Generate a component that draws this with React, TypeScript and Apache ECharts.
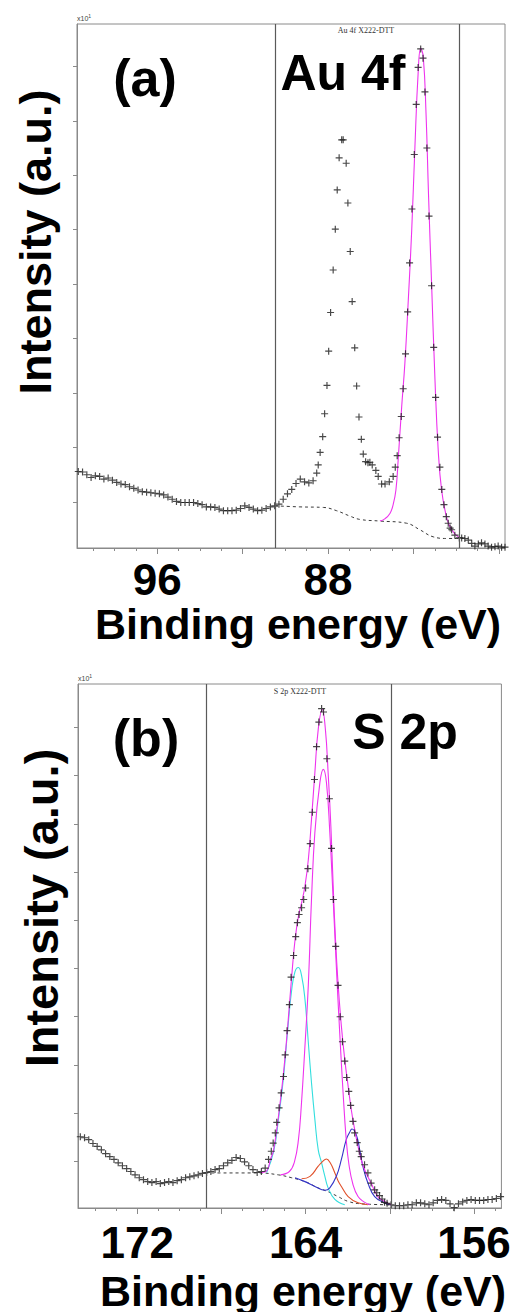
import React, { useEffect, useRef } from "react";
import * as echarts from "echarts";

// ---------- Panel (a): Au 4f ----------
const auDataE = [
  99.7, 99.5, 99.3, 99.1, 98.9, 98.7, 98.5, 98.3, 98.1, 97.9, 97.7, 97.5, 97.3, 97.1, 96.9, 96.7,
  96.5, 96.3, 96.1, 95.9, 95.7, 95.5, 95.3, 95.1, 94.9, 94.7, 94.5, 94.3, 94.1, 93.9, 93.7, 93.5,
  93.3, 93.1, 92.9, 92.7, 92.5, 92.3, 92.1, 91.9, 91.7, 91.5, 91.3, 91.1, 90.9, 90.7, 90.5,
  90.3, 90.1, 89.9, 89.7, 89.5, 89.3, 89.1, 88.9, 88.7,
  88.53, 88.46, 88.37, 88.25, 88.16, 88.05, 87.97, 87.88, 87.76, 87.66, 87.57, 87.48, 87.36, 87.29,
  87.15, 87.07, 86.96, 86.87, 86.75, 86.66, 86.55, 86.44, 86.35, 86.24, 86.13, 86.04, 85.93, 85.76,
  85.65, 85.49, 85.33, 85.13, 84.95, 84.85, 84.76, 84.67, 84.57, 84.48, 84.37, 84.27, 84.18, 84.07,
  83.96, 83.87, 83.78, 83.66, 83.55, 83.46, 83.37, 83.27, 83.15, 83.05, 82.96, 82.87, 82.76, 82.67,
  82.57, 82.46, 82.37, 82.28, 82.21, 82.06, 81.85, 81.74, 81.59, 81.43, 81.27, 81.12, 80.96, 80.81,
  80.65, 80.5, 80.34, 80.18, 80.03, 79.87, 79.71,
];
const auDataI = [
  1.56, 1.55, 1.5, 1.45, 1.48, 1.47, 1.42, 1.44, 1.4, 1.36, 1.33, 1.32, 1.28, 1.25, 1.22, 1.19,
  1.18, 1.17, 1.16, 1.15, 1.13, 1.09, 1.05, 1.01, 0.99, 0.99, 0.99, 0.99, 0.97, 0.95, 0.91, 0.91,
  0.9, 0.87, 0.84, 0.84, 0.84, 0.85, 0.88, 0.93, 0.9, 0.87, 0.84, 0.85, 0.88, 0.91, 0.93,
  0.96, 1.05, 1.15, 1.23, 1.34, 1.42, 1.37, 1.35, 1.39,
  1.53, 1.68, 1.91, 2.2, 2.62, 3.14, 3.77, 4.48, 5.26, 6.01, 6.73, 7.32, 7.65, 7.65,
  7.22, 6.49, 5.6, 4.68, 3.83, 3.13, 2.56, 2.15, 1.88, 1.74, 1.72, 1.73, 1.68, 1.58,
  1.47, 1.33, 1.33, 1.37, 1.47, 1.64, 1.85, 2.18, 2.57, 3.08, 3.72, 4.49, 5.39, 6.38,
  7.38, 8.3, 8.98, 9.32, 9.15, 8.53, 7.5, 6.25, 4.97, 3.84, 2.92, 2.19, 1.64, 1.23,
  0.95, 0.73, 0.61, 0.52, 0.49, 0.39, 0.34, 0.34, 0.33, 0.3, 0.24, 0.19, 0.23, 0.25,
  0.23, 0.19, 0.17, 0.18, 0.19, 0.17, 0.17,
];
const auFitE = [85.57, 85.34, 85.1, 84.95, 84.82, 84.71, 84.55, 84.4, 84.24, 84.08, 83.93, 83.78, 83.66, 83.54, 83.41, 83.29, 83.15, 82.99, 82.84, 82.68, 82.44, 82.21, 81.85];
const auFitI = [0.65, 0.69, 0.79, 0.95, 1.22, 1.8, 2.75, 3.55, 4.71, 5.99, 7.52, 8.87, 9.33, 9.18, 8.14, 6.61, 5.02, 3.24, 1.96, 1.22, 0.71, 0.49, 0.34];
const auBgE = [90.49, 89.32, 88.22, 87.6, 86.97, 86.51, 85.57, 84.32, 83.7, 83.07, 82.44, 81.85];
const auBgI = [0.93, 0.91, 0.9, 0.84, 0.74, 0.68, 0.65, 0.61, 0.49, 0.36, 0.33, 0.33];
const auRegion = [90.49, 81.85];
const auMinorTicks = [80, 81, 82, 83, 84, 85, 86, 87, 88, 89, 90, 91, 92, 93, 94, 95, 96, 97, 98, 99];
const auMajorTicks = [80, 84, 88, 92, 96];
const auTickLabels = [96, 88];
const auYTicks = [1, 2, 3, 4, 5, 6, 7, 8, 9];

// ---------- Panel (b): S 2p ----------
const sDataE = [
  174.7, 174.5, 174.3, 174.1, 173.9, 173.7, 173.5, 173.3, 173.1, 172.9, 172.7, 172.5, 172.3, 172.1,
  171.9, 171.7, 171.5, 171.3, 171.1, 170.9, 170.7, 170.5, 170.3, 170.1, 169.9, 169.7, 169.5, 169.3,
  169.1, 168.9, 168.7, 168.5, 168.3, 168.1, 167.9, 167.7, 167.5, 167.3, 167.1, 166.9, 166.7, 166.5,
  166.3, 166.1,
  165.92, 165.76, 165.63, 165.54, 165.44, 165.37, 165.26, 165.16, 165.05, 164.97, 164.88, 164.77,
  164.69, 164.57, 164.47, 164.39, 164.31, 164.19, 164.09, 164.0, 163.89, 163.78, 163.68, 163.58,
  163.48, 163.37, 163.24, 163.15, 162.99, 162.87, 162.77, 162.68, 162.57, 162.46, 162.36, 162.25,
  162.14, 162.05, 161.95, 161.86, 161.75, 161.67, 161.55, 161.45, 161.36, 161.2, 161.04, 160.89,
  160.72, 160.62, 160.49, 160.37, 160.25, 160.13, 159.94,
  159.74, 159.54, 159.34, 159.14, 158.94, 158.74, 158.54, 158.34, 158.14, 157.94, 157.74, 157.54,
  157.34, 157.14, 156.94, 156.74, 156.54, 156.34, 156.14, 155.94, 155.74, 155.54, 155.34, 155.14,
  154.94, 154.74,
];
const sDataI = [
  1.51, 1.49, 1.45, 1.37, 1.31, 1.24, 1.16, 1.1, 1.04, 0.97, 0.91, 0.85, 0.79, 0.72,
  0.66, 0.62, 0.58, 0.56, 0.58, 0.54, 0.56, 0.58, 0.56, 0.6, 0.62, 0.66, 0.68, 0.7,
  0.72, 0.75, 0.77, 0.79, 0.83, 0.85, 0.91, 0.97, 1.02, 1.08, 1.06, 0.99, 0.91, 0.83,
  0.77, 0.79,
  0.86, 1.04, 1.21, 1.38, 1.59, 1.81, 2.11, 2.42, 2.76, 3.21, 3.71, 4.25,
  4.82, 5.27, 5.66, 5.95, 6.12, 6.26, 6.43, 6.67, 7.07, 7.59, 8.24, 8.92,
  9.6, 10.11, 10.39, 10.32, 9.35, 8.52, 7.49, 6.43, 5.46, 4.65, 4.0, 3.48,
  3.08, 2.74, 2.45, 2.16, 1.83, 1.59, 1.39, 1.21, 1.1, 0.93, 0.76, 0.55,
  0.41, 0.35, 0.29, 0.22, 0.15, 0.13, 0.1,
  0.08, 0.08, 0.08, 0.1, 0.1, 0.14, 0.14, 0.12, 0.1, 0.14, 0.19, 0.21,
  0.19, 0.12, 0.04, 0.12, 0.16, 0.19, 0.21, 0.19, 0.19, 0.19, 0.21, 0.21,
  0.23, 0.27,
];
const sEnvE = [166.14, 165.84, 165.67, 165.52, 165.29, 165.05, 164.85, 164.66, 164.5, 164.34, 164.19, 164.03, 163.87, 163.72, 163.56, 163.4, 163.21, 163.06, 162.93, 162.8, 162.69, 162.58, 162.46, 162.3, 162.14, 161.98, 161.83, 161.67, 161.51, 161.36, 161.2, 160.89, 160.57, 160.25, 159.94];
const sEnvI = [0.77, 0.81, 1.04, 1.24, 1.93, 2.83, 3.8, 4.84, 5.6, 6.08, 6.36, 6.71, 7.26, 8.09, 9.06, 9.96, 10.37, 9.96, 9.06, 7.95, 6.71, 5.6, 4.7, 3.8, 3.11, 2.56, 2.07, 1.66, 1.31, 1.04, 0.83, 0.55, 0.27, 0.17, 0.1];
const sMainE = [165.19, 164.77, 164.53, 164.34, 164.2, 164.04, 163.87, 163.72, 163.56, 163.32, 163.16, 163.01, 162.85, 162.69, 162.54, 162.38, 162.22, 162.07, 161.94, 161.75, 161.51, 161.23, 160.95];
const sMainI = [0.72, 0.79, 0.99, 1.45, 2.18, 3.32, 4.67, 6.43, 7.82, 8.86, 9.13, 8.86, 7.82, 6.43, 5.04, 3.67, 2.43, 1.45, 0.93, 0.52, 0.27, 0.16, 0.1];
const sCyanE = [165.85, 165.52, 165.29, 165.05, 164.85, 164.66, 164.5, 164.34, 164.19, 164.03, 163.87, 163.72, 163.56, 163.4, 163.24, 163.09, 162.93, 162.61, 162.14];
const sCyanI = [0.77, 1.2, 1.87, 2.74, 3.73, 4.56, 4.94, 5.02, 4.85, 4.36, 3.46, 2.63, 1.87, 1.24, 0.97, 0.7, 0.45, 0.21, 0.1];
const sRedE = [164.19, 163.79, 163.4, 163.21, 163.01, 162.83, 162.61, 162.46, 162.3, 161.98, 161.51, 161.04];
const sRedI = [0.64, 0.69, 0.9, 0.99, 1.05, 0.97, 0.76, 0.6, 0.48, 0.27, 0.14, 0.1];
const sBlueE = [164.5, 164.03, 163.56, 163.08, 162.85, 162.54, 162.3, 162.07, 161.91, 161.8, 161.59, 161.43, 161.28, 161.04, 160.72, 160.25, 159.96];
const sBlueI = [0.66, 0.58, 0.48, 0.4, 0.45, 0.69, 1.04, 1.45, 1.6, 1.67, 1.55, 1.24, 0.9, 0.55, 0.27, 0.14, 0.1];
const sBgE = [168.75, 166.23, 165.29, 164.66, 164.03, 163.4, 162.93, 162.46, 161.98, 161.36, 159.94];
const sBgI = [0.76, 0.76, 0.72, 0.66, 0.58, 0.45, 0.37, 0.27, 0.17, 0.12, 0.1];
const sRegion = [168.73, 159.94];
const sMinorTicks = [155, 156, 157, 158, 159, 160, 161, 162, 163, 164, 165, 166, 167, 168, 169, 170, 171, 172, 173, 174];
const sMajorTicks = [156, 160, 164, 168, 172];
const sTickLabels = [172, 164, 156];
const sYTicks = [1, 2, 3, 4, 5, 6, 7, 8, 9, 10];

const FONT = "'Liberation Sans', Arial, Helvetica, sans-serif";
const SERIF = "'Liberation Serif', 'Times New Roman', serif";
const PLUS = "path://M5,0H7V5H12V7H7V12H5V7H0V5H5Z";
const AXIS_GRAY = "#8a8a8a";

const zip = (e: number[], v: number[]) => e.map((x, i) => [x, v[i]]);

function xAxesFor(grid: number, min: number, max: number, minor: number[], major: number[], labels: number[], margin: number) {
  return [
    {
      type: "value", gridIndex: grid, min, max, inverse: true, position: "bottom",
      axisLine: { show: true, lineStyle: { color: AXIS_GRAY, width: 1 } },
      axisTick: { show: true, customValues: minor, length: 3, lineStyle: { color: AXIS_GRAY } },
      axisLabel: { show: true, customValues: labels, fontSize: 44, fontWeight: "bold", color: "#000", fontFamily: FONT, margin },
      splitLine: { show: false },
    },
    {
      type: "value", gridIndex: grid, min, max, inverse: true, position: "bottom", offset: 0,
      axisLine: { show: false },
      axisTick: { show: true, customValues: major, length: 6, lineStyle: { color: AXIS_GRAY } },
      axisLabel: { show: false },
      splitLine: { show: false },
    },
  ];
}

function yAxisFor(grid: number, min: number, max: number, ticks: number[]) {
  return {
    type: "value", gridIndex: grid, min, max,
    axisLine: { show: true, lineStyle: { color: AXIS_GRAY, width: 1 } },
    axisTick: { show: true, customValues: ticks, length: 4, lineStyle: { color: AXIS_GRAY } },
    axisLabel: { show: false },
    splitLine: { show: false },
  };
}

const lineSeries = (name: string, xi: number, yi: number, data: number[][], color: string, dashed = false) => ({
  name, type: "line", xAxisIndex: xi, yAxisIndex: yi, data, showSymbol: false, symbol: "none",
  smooth: 0.45, silent: true,
  lineStyle: { color, width: dashed ? 1 : 1.1, type: dashed ? [3, 3] : "solid" },
  z: 3,
});

const scatterSeries = (name: string, xi: number, yi: number, data: number[][], region: number[]) => ({
  name, type: "scatter", xAxisIndex: xi, yAxisIndex: yi, data, symbol: PLUS, symbolSize: 7,
  itemStyle: { color: "#1a1a1a" }, silent: true, z: 4,
  markLine: {
    silent: true, symbol: ["none", "none"], label: { show: false },
    lineStyle: { color: "#5a5a5a", width: 1.2, type: "solid" },
    data: region.map((v) => ({ xAxis: v })),
  },
});

const boldText = (text: string, x: number, y: number, size: number, extra: any = {}) => ({
  type: "text", x, y, silent: true, ...extra,
  style: { text, fontSize: size, fontWeight: "bold", fontFamily: FONT, fill: "#000", align: "center", verticalAlign: "middle" },
});

const smallText = (text: string, x: number, y: number) => ({
  type: "text", x, y, silent: true,
  style: { text, fontSize: 8, fontFamily: SERIF, fill: "#333", align: "center", verticalAlign: "middle" },
});

const expText = (x: number, y: number) => ({
  type: "text", x, y, silent: true,
  style: {
    text: "{a|x10}{b|1}", align: "left", verticalAlign: "bottom",
    rich: { a: { fontSize: 7, fontFamily: FONT, fill: "#444" }, b: { fontSize: 5, fontFamily: FONT, fill: "#444", padding: [0, 0, 5, 0] } },
  },
});

export default function App() {
  const ref = useRef<HTMLDivElement>(null);
  useEffect(() => {
    if (!ref.current) return;
    const chart = echarts.init(ref.current, null, { renderer: "svg" });
    const option: any = {
      animation: false,
      backgroundColor: "#ffffff",
      grid: [
        { left: 77, top: 24, width: 428, height: 524, show: true, borderColor: AXIS_GRAY, borderWidth: 1, backgroundColor: "transparent" },
        { left: 78, top: 684, width: 426, height: 524, show: true, borderColor: AXIS_GRAY, borderWidth: 1, backgroundColor: "transparent" },
      ],
      xAxis: [
        ...xAxesFor(0, 79.71, 99.76, auMinorTicks, auMajorTicks, auTickLabels, 9),
        ...xAxesFor(1, 154.7, 174.81, sMinorTicks, sMajorTicks, sTickLabels, 12),
      ],
      yAxis: [yAxisFor(0, 0.155, 9.777, auYTicks), yAxisFor(1, 0.033, 10.9, sYTicks)],
      series: [
        scatterSeries("Au 4f data", 0, 0, zip(auDataE, auDataI), auRegion),
        lineSeries("Au 4f background", 0, 0, zip(auBgE, auBgI), "#3a3a3a", true),
        lineSeries("Au 4f fit", 0, 0, zip(auFitE, auFitI), "#ee33ee"),
        scatterSeries("S 2p data", 2, 1, zip(sDataE, sDataI), sRegion),
        lineSeries("S 2p background", 2, 1, zip(sBgE, sBgI), "#3a3a3a", true),
        lineSeries("S 2p cyan", 2, 1, zip(sCyanE, sCyanI), "#33dede"),
        lineSeries("S 2p red", 2, 1, zip(sRedE, sRedI), "#e0502a"),
        lineSeries("S 2p blue", 2, 1, zip(sBlueE, sBlueI), "#3333c8"),
        lineSeries("S 2p main", 2, 1, zip(sMainE, sMainI), "#ee33ee"),
        lineSeries("S 2p envelope", 2, 1, zip(sEnvE, sEnvI), "#ee33ee"),
      ],
      graphic: [
        boldText("(a)", 145, 78, 52),
        boldText("Au 4f", 343, 73, 50),
        smallText("Au 4f X222-DTT", 366, 30),
        expText(77, 23),
        boldText("Intensity (a.u.)", 35, 242, 45, { rotation: Math.PI / 2 }),
        boldText("Binding energy (eV)", 298, 624, 43),
        boldText("(b)", 146, 738, 52),
        boldText("S 2p", 405, 732, 50),
        smallText("S 2p X222-DTT", 300, 691),
        expText(78, 683),
        boldText("Intensity (a.u.)", 41, 908, 47, { rotation: Math.PI / 2 }),
        boldText("Binding energy (eV)", 303, 1291, 43),
      ],
    };
    chart.setOption(option);
    return () => chart.dispose();
  }, []);
  return (
    <div
      ref={ref}
      style={{ position: "absolute", left: 0, top: 0, width: 516, height: 1312, background: "#fff" }}
    />
  );
}
